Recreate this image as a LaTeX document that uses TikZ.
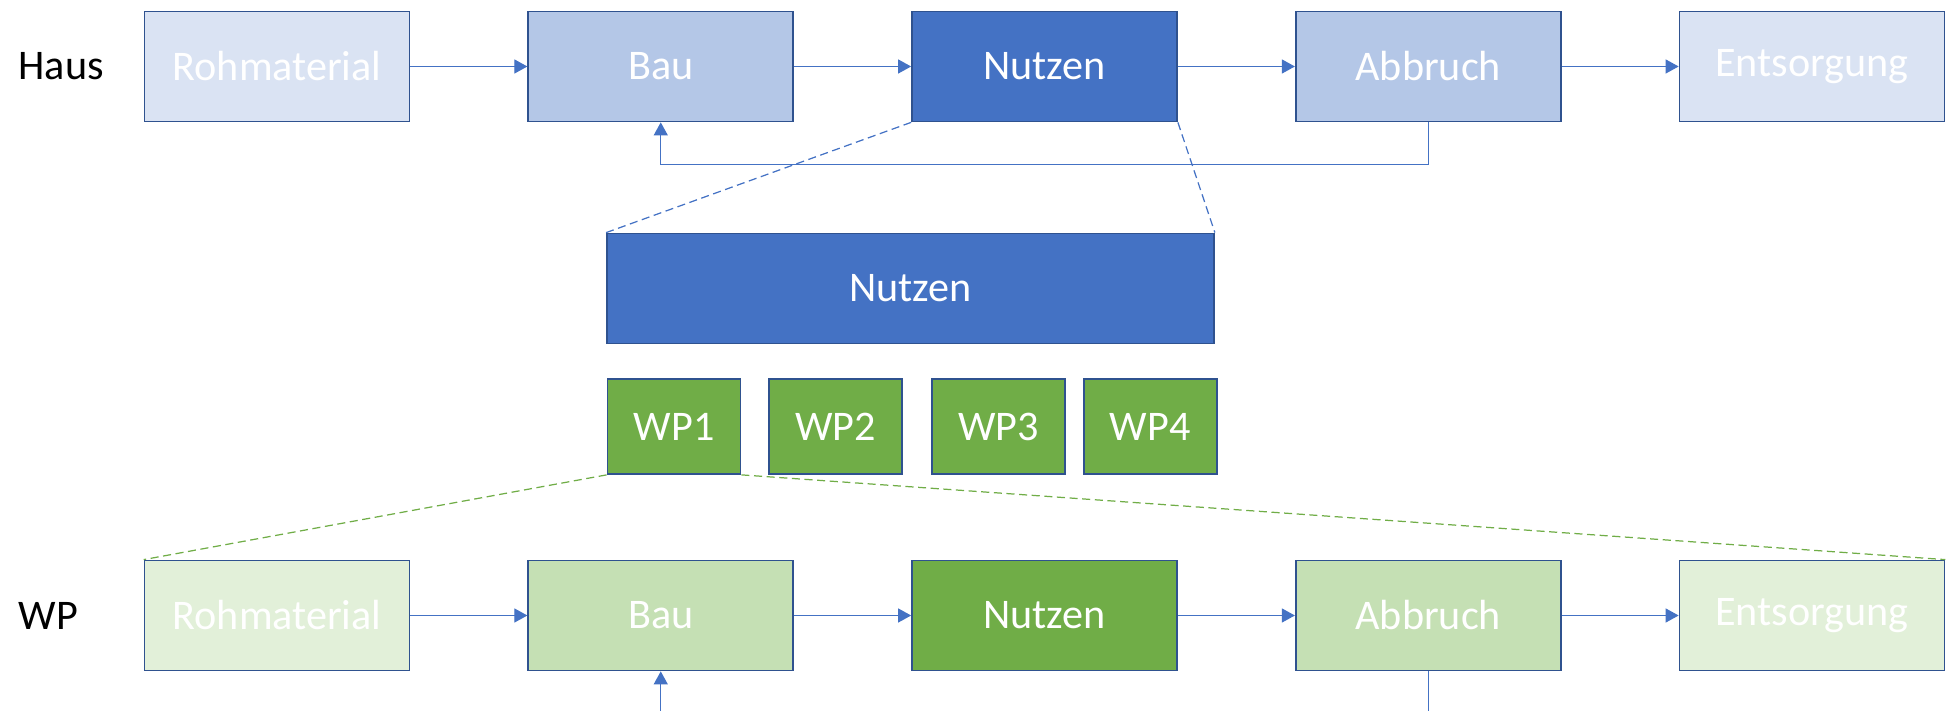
\documentclass[tikz,border=0pt]{standalone}
\usepackage{fontspec}
\setmainfont{Carlito}
\usepackage{tikz}
\definecolor{officeBlue}{HTML}{4472C4}
\definecolor{officeBlueMid}{HTML}{B4C7E7}
\definecolor{officeBlueLight}{HTML}{DAE3F3}
\definecolor{officeGreen}{HTML}{70AD47}
\definecolor{officeGreenMid}{HTML}{C5E0B4}
\definecolor{officeGreenLight}{HTML}{E2F0D9}
\definecolor{boxBorder}{HTML}{2F528F}
\usetikzlibrary{arrows.meta, positioning}

\begin{document}
\begin{tikzpicture}[
    font=\fontsize{12}{14}\selectfont,
    node distance=1.17cm,
    phase/.style={
        rectangle,
        draw=boxBorder,
        line width=0.5pt,
        text=white,
        minimum width=2.65cm,
        minimum height=1.10cm,
        inner sep=0pt
    },
    wpbox/.style={phase, fill=officeGreen, minimum width=1.33cm, minimum height=0.95cm},
    rowlabel/.style={anchor=west, inner sep=0pt},
    flow/.style={draw=officeBlue, line width=0.35pt, -{Triangle[length=0.13cm, width=0.14cm]}},
    plain/.style={draw=officeBlue, line width=0.35pt},
    zoomline/.style={line width=0.35pt, dash pattern=on 2.3pt off 1.3pt}
]
    \useasboundingbox (0,0) rectangle (19.51,-7.11);

    % Haus: Lebenszyklus
    \node[rowlabel] (hLabel) at (0.18,-0.665) {Haus};
    \node[phase, fill=officeBlueLight] (hRoh) at (2.77,-0.665) {Rohmaterial};
    \node[phase, fill=officeBlueMid, right=of hRoh] (hBau) {Bau};
    \node[phase, fill=officeBlue, right=of hBau] (hNutz) {Nutzen};
    \node[phase, fill=officeBlueMid, right=of hNutz] (hAbb) {Abbruch};
    \node[phase, fill=officeBlueLight, right=of hAbb] (hEnt) {Entsorgung};

    \draw[flow] (hRoh) -- (hBau);
    \draw[flow] (hBau) -- (hNutz);
    \draw[flow] (hNutz) -- (hAbb);
    \draw[flow] (hAbb) -- (hEnt);
    \draw[flow] (hAbb.south) -- ++(0,-0.42) -| (hBau.south);

    % Nutzen aufgeteilt in Arbeitspakete
    \node[phase, fill=officeBlue, minimum width=6.07cm] (bigNutz) at (9.105,-2.885) {Nutzen};
    \node[wpbox] (wp1) at (6.74,-4.265) {WP1};
    \node[wpbox, right=0.27cm of wp1] (wp2) {WP2};
    \node[wpbox, right=0.28cm of wp2] (wp3) {WP3};
    \node[wpbox, right=0.17cm of wp3] (wp4) {WP4};

    \draw[zoomline, officeBlue] (hNutz.south west) -- (bigNutz.north west);
    \draw[zoomline, officeBlue] (hNutz.south east) -- (bigNutz.north east);

    % WP: Lebenszyklus
    \node[rowlabel] (wLabel) at (0.18,-6.155) {WP};
    \node[phase, fill=officeGreenLight] (wRoh) at (2.77,-6.155) {Rohmaterial};
    \node[phase, fill=officeGreenMid, right=of wRoh] (wBau) {Bau};
    \node[phase, fill=officeGreen, right=of wBau] (wNutz) {Nutzen};
    \node[phase, fill=officeGreenMid, right=of wNutz] (wAbb) {Abbruch};
    \node[phase, fill=officeGreenLight, right=of wAbb] (wEnt) {Entsorgung};

    \draw[zoomline, officeGreen] (wp1.south west) -- (wRoh.north west);
    \draw[zoomline, officeGreen] (wp1.south east) -- (wEnt.north east);

    \draw[flow] (wRoh) -- (wBau);
    \draw[flow] (wBau) -- (wNutz);
    \draw[flow] (wNutz) -- (wAbb);
    \draw[flow] (wAbb) -- (wEnt);

    \coordinate (feedIn) at (wBau.south |- 0,-7.11);
    \coordinate (feedOut) at (wAbb.south |- 0,-7.11);
    \draw[flow] (feedIn) -- (wBau.south);
    \draw[plain] (wAbb.south) -- (feedOut);
\end{tikzpicture}
\end{document}
